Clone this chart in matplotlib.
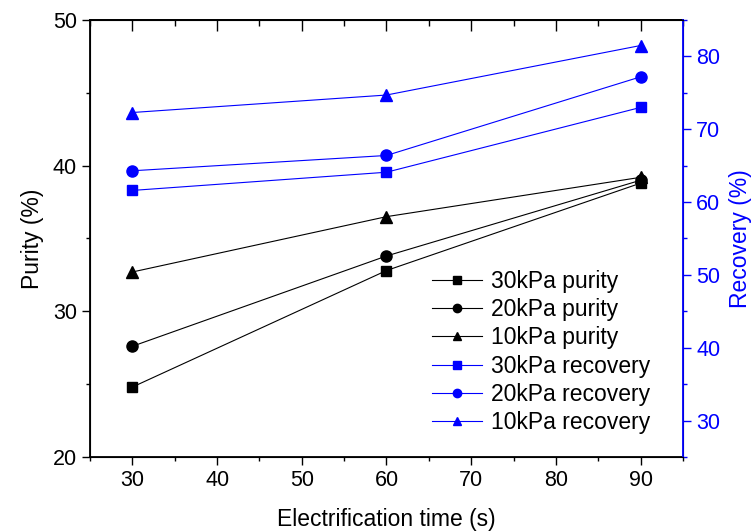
import matplotlib
matplotlib.use("Agg")
import matplotlib.pyplot as plt
from matplotlib.ticker import MultipleLocator

plt.rcParams['font.family'] = ['Liberation Sans', 'DejaVu Sans']

time_s = [30, 60, 90]

purity_30kpa = [24.8, 32.8, 38.8]
purity_20kpa = [27.6, 33.8, 39.0]
purity_10kpa = [32.7, 36.5, 39.2]

recovery_30kpa = [61.6, 64.1, 73.0]
recovery_20kpa = [64.3, 66.4, 77.2]
recovery_10kpa = [72.3, 74.7, 81.5]

fig = plt.figure(figsize=(7.55, 5.31), dpi=100)
ax = fig.add_axes([0.1192, 0.1394, 0.7854, 0.8229])
ax2 = ax.twinx()

lw = 0.8
ms = 8
h1, = ax.plot(time_s, purity_30kpa, color='black', marker='s', ms=ms - 1, lw=lw, label='30kPa purity')
h2, = ax.plot(time_s, purity_20kpa, color='black', marker='o', ms=ms, lw=lw, label='20kPa purity')
h3, = ax.plot(time_s, purity_10kpa, color='black', marker='^', ms=ms, lw=lw, label='10kPa purity')
h4, = ax2.plot(time_s, recovery_30kpa, color='blue', marker='s', ms=ms - 1, lw=lw, label='30kPa recovery')
h5, = ax2.plot(time_s, recovery_20kpa, color='blue', marker='o', ms=ms, lw=lw, label='20kPa recovery')
h6, = ax2.plot(time_s, recovery_10kpa, color='blue', marker='^', ms=ms, lw=lw, label='10kPa recovery')

ax.set_xlim(25, 95)
ax.set_ylim(20, 50)
ax2.set_ylim(25, 85)

ax.xaxis.set_major_locator(MultipleLocator(10))
ax.xaxis.set_minor_locator(MultipleLocator(5))
ax.yaxis.set_major_locator(MultipleLocator(10))
ax.yaxis.set_minor_locator(MultipleLocator(5))
ax2.yaxis.set_major_locator(MultipleLocator(10))
ax2.yaxis.set_minor_locator(MultipleLocator(5))

ax.tick_params(which='major', direction='out', length=6, width=1, labelsize=15.5)
ax.tick_params(which='minor', direction='out', length=3, width=1)
ax2.tick_params(which='major', direction='out', length=6, width=1, labelsize=15.5,
                colors='blue')
ax2.tick_params(which='minor', direction='out', length=3, width=1, colors='blue')

# top axis: inward ticks, no labels
top = ax.secondary_xaxis('top')
top.xaxis.set_major_locator(MultipleLocator(10))
top.xaxis.set_minor_locator(MultipleLocator(5))
top.tick_params(which='major', direction='in', length=8, width=1, labeltop=False)
top.tick_params(which='minor', direction='in', length=4, width=1)

for s in ['left', 'bottom', 'top']:
    ax.spines[s].set_linewidth(1.3)
ax2.spines['right'].set_color('blue')
ax2.spines['right'].set_linewidth(1.3)
top.spines['top'].set_linewidth(1.3)

ax.set_xlabel('Electrification time (s)', fontsize=16.5, labelpad=12)
ax.set_ylabel('Purity (%)', fontsize=16.5, labelpad=6)
ax2.set_ylabel('Recovery (%)', fontsize=16.5, color='blue', labelpad=6)

ax2.legend(handles=[h1, h2, h3, h4, h5, h6], loc='lower right', frameon=False,
           fontsize=16.5, bbox_to_anchor=(0.98, 0.005), handlelength=2.2,
           labelspacing=0.23, handletextpad=0.4, markerscale=0.75)

fig.savefig('out.png', dpi=100)
